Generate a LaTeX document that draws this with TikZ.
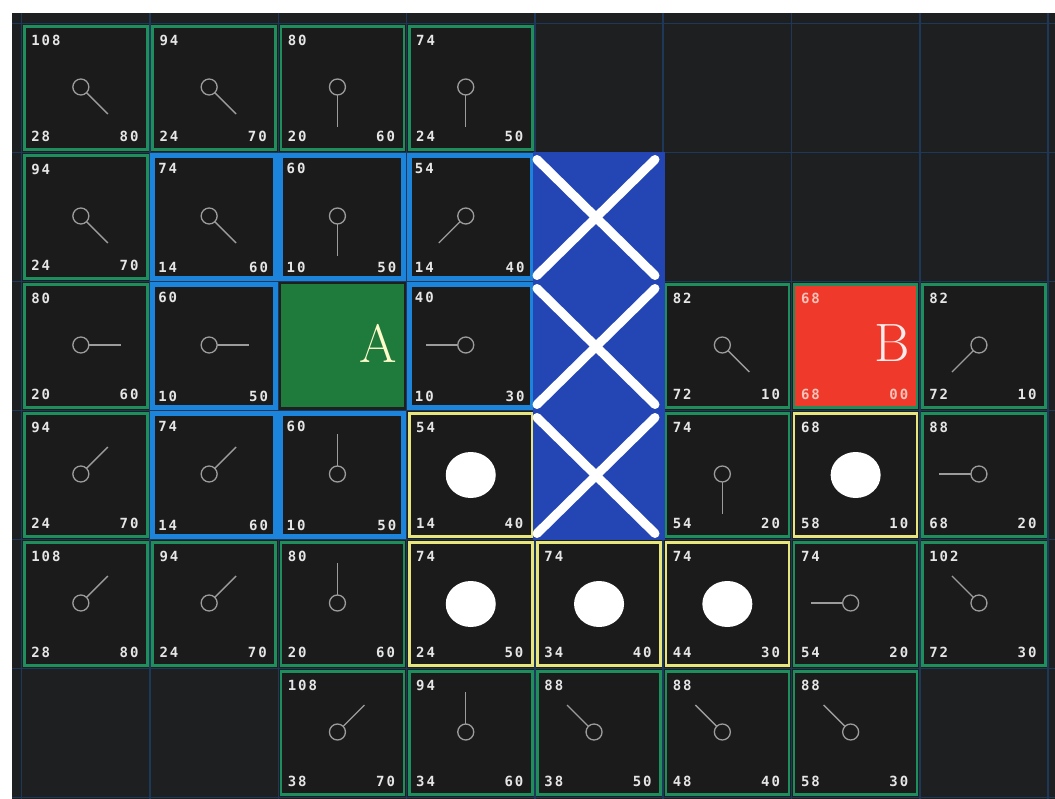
\documentclass[tikz,border=0pt]{standalone}
\usepackage{fontspec}
\newfontfamily\digitfont[LetterSpace=14]{DejaVu Sans Mono}
\usetikzlibrary{calc}
\definecolor{bgdark}{HTML}{1E1F21}
\definecolor{celldark}{HTML}{1B1B1B}
\definecolor{gridblue}{HTML}{1D3858}
\definecolor{opengreen}{HTML}{1E8F5C}
\definecolor{closedblue}{HTML}{1C84DA}
\definecolor{pathyellow}{HTML}{E6E67C}
\definecolor{wallblue}{HTML}{2446B4}
\definecolor{startgreen}{HTML}{1F7B3B}
\definecolor{goalred}{HTML}{EF3A2B}
\definecolor{digitgrey}{HTML}{E6E6E6}
\definecolor{goalpink}{HTML}{F9C3BA}
\definecolor{pointergrey}{HTML}{9C9C9C}

\tikzset{
  cellbox/.style={minimum width=123pt, minimum height=123pt, inner sep=0pt, fill=celldark},
  openbox/.style={cellbox, draw=opengreen, line width=2.6pt},
  closedbox/.style={cellbox, draw=closedblue, line width=5pt},
  pathbox/.style={cellbox, draw=pathyellow, line width=2.6pt},
  num/.style={font=\digitfont\bfseries\fontsize{14}{14}\selectfont, text=digitgrey, inner sep=0pt},
  pointer/.style={draw=pointergrey, line width=1.3pt},
  wallx/.style={draw=white, line width=9pt, line cap=round},
  endletter/.style={font=\fontsize{54}{54}\selectfont, inner sep=0pt}
}

\begin{document}
\begin{tikzpicture}[x=1pt, y=-1pt]
\useasboundingbox (0,0) rectangle (1055,799);
\fill[white] (0,0) rectangle (1055,799);
\fill[bgdark] (12,13) rectangle (1055,799);

% faint grid
\foreach \i in {0,...,8}
  \draw[gridblue, line width=1.5pt] ({21.7+128.3*\i},13) -- ({21.7+128.3*\i},799);
\foreach \j in {0,...,6}
  \draw[gridblue, line width=1.5pt] (12,{23.5+129*\j}) -- (1055,{23.5+129*\j});

% start and goal
\node[cellbox, fill=startgreen] (start) at ({85.85+128.3*2},{88+129*2}) {};
\node[endletter, text=yellow!20!white] (start-label) at ($(start)+(36,-3)$) {A};
\node[openbox, fill=goalred] (goal) at ({85.85+128.3*6},{88+129*2}) {};
\node[endletter, text=white!92!red] (goal-label) at ($(goal)+(36,-3)$) {B};
\node[num, text=goalpink, anchor=west] (goal-f) at ($(goal.north west)+(8,15.5)$) {68};
\node[num, text=goalpink, anchor=west] (goal-g) at ($(goal.south west)+(8,-14)$) {68};
\node[num, text=goalpink, anchor=east] (goal-h) at ($(goal.south east)+(-10,-14)$) {00};

% open and closed cells: row/col/F/G/H/kind/parent vector
\foreach \r/\c/\f/\g/\h/\kind/\vx/\vy in {
  0/0/108/28/80/openbox/27/27, 0/1/94/24/70/openbox/27/27,
  0/2/80/20/60/openbox/0/40, 0/3/74/24/50/openbox/0/40,
  1/0/94/24/70/openbox/27/27, 1/1/74/14/60/closedbox/27/27,
  1/2/60/10/50/closedbox/0/40, 1/3/54/14/40/closedbox/-27/27,
  2/0/80/20/60/openbox/40/0, 2/1/60/10/50/closedbox/40/0,
  2/3/40/10/30/closedbox/-40/0, 2/5/82/72/10/openbox/27/27,
  2/7/82/72/10/openbox/-27/27,
  3/0/94/24/70/openbox/27/-27, 3/1/74/14/60/closedbox/27/-27,
  3/2/60/10/50/closedbox/0/-40, 3/5/74/54/20/openbox/0/40,
  3/7/88/68/20/openbox/-40/0,
  4/0/108/28/80/openbox/27/-27, 4/1/94/24/70/openbox/27/-27,
  4/2/80/20/60/openbox/0/-40, 4/6/74/54/20/openbox/-40/0,
  4/7/102/72/30/openbox/-27/-27,
  5/2/108/38/70/openbox/27/-27, 5/3/94/34/60/openbox/0/-40,
  5/4/88/38/50/openbox/-27/-27, 5/5/88/48/40/openbox/-27/-27,
  5/6/88/58/30/openbox/-27/-27}{
  \node[\kind] (cell-\r-\c) at ({85.85+128.3*\c},{88+129*\r}) {};
  \node[num, anchor=west] (f-\r-\c) at ($(cell-\r-\c.north west)+(8,15.5)$) {\f};
  \node[num, anchor=west] (g-\r-\c) at ($(cell-\r-\c.south west)+(8,-14)$) {\g};
  \node[num, anchor=east] (h-\r-\c) at ($(cell-\r-\c.south east)+(-10,-14)$) {\h};
  \coordinate (knob-\r-\c) at ($(cell-\r-\c)+(-5,-1)$);
  \draw[pointer] (knob-\r-\c) -- ++(\vx,\vy);
  \draw[pointer, fill=celldark] (knob-\r-\c) circle[radius=8pt];
}

% cells on the path
\foreach \r/\c/\f/\g/\h in {3/3/54/14/40, 3/6/68/58/10, 4/3/74/24/50,
  4/4/74/34/40, 4/5/74/44/30}{
  \node[pathbox] (cell-\r-\c) at ({85.85+128.3*\c},{88+129*\r}) {};
  \node[num, anchor=west] (f-\r-\c) at ($(cell-\r-\c.north west)+(8,15.5)$) {\f};
  \node[num, anchor=west] (g-\r-\c) at ($(cell-\r-\c.south west)+(8,-14)$) {\g};
  \node[num, anchor=east] (h-\r-\c) at ($(cell-\r-\c.south east)+(-10,-14)$) {\h};
  \fill[white] (cell-\r-\c) ellipse[x radius=25pt, y radius=23pt];
}

% wall
\fill[wallblue] (532.9,152.5) rectangle (665.2,539.5);
\foreach \j in {1,2,3}{
  \draw[wallx] (537,{23.5+129*\j+7}) -- (655,{23.5+129*(\j+1)-6});
  \draw[wallx] (655,{23.5+129*\j+7}) -- (537,{23.5+129*(\j+1)-6});
}
\end{tikzpicture}
\end{document}
